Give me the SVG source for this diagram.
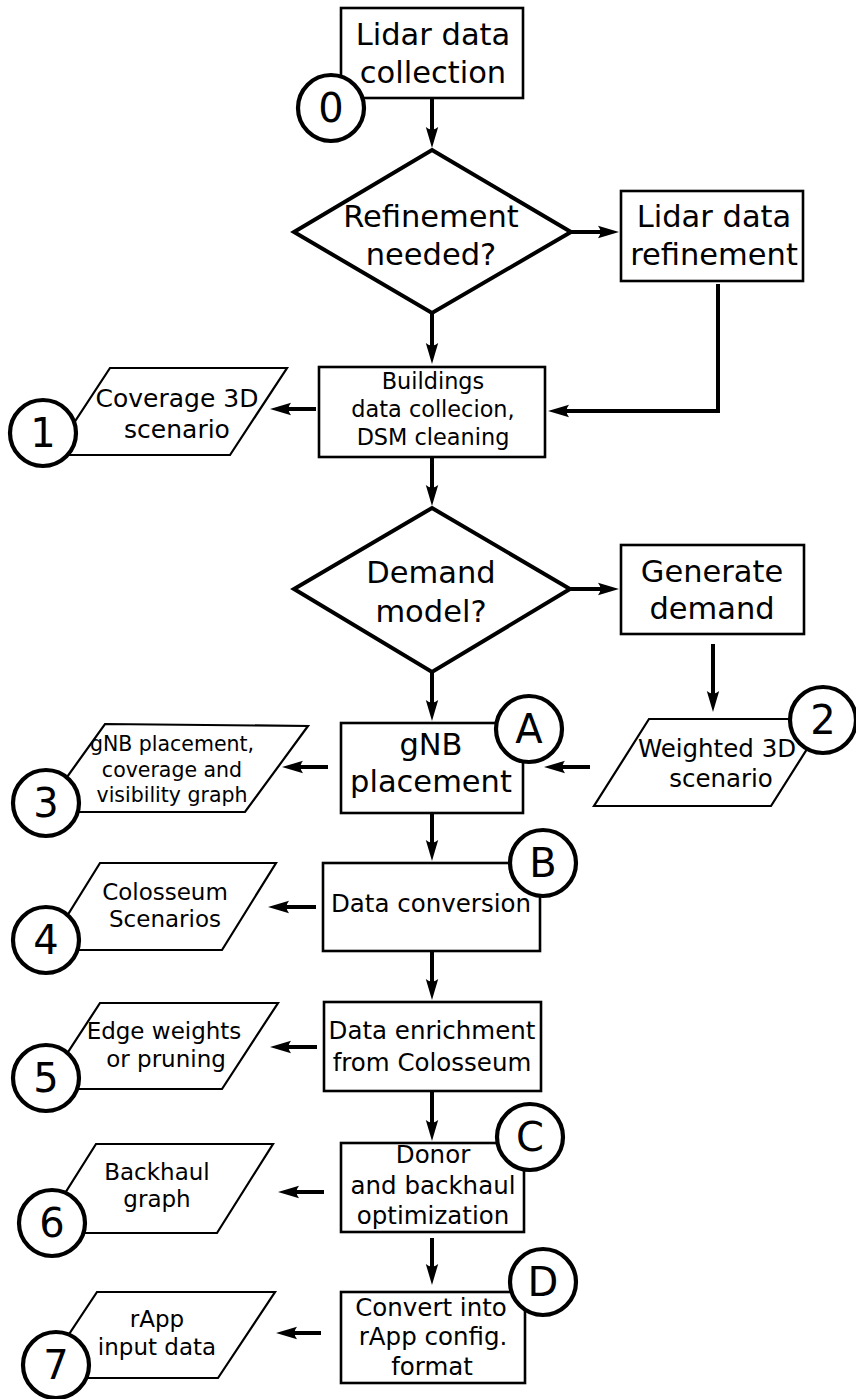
<svg xmlns="http://www.w3.org/2000/svg" width="856" height="1399" viewBox="0 0 856 1399">
<defs>
<marker id="ah" markerUnits="userSpaceOnUse" orient="auto" overflow="visible" refX="0" refY="0" markerWidth="24" markerHeight="24">
<path d="M14,0 L-7,-6.2 Q-2,0 -7,6.2 Z" fill="#000"/>
</marker>
<style>
text{font-family:"DejaVu Sans","Liberation Sans",sans-serif;fill:#000;text-anchor:middle}
.box{fill:#fff;stroke:#000;stroke-width:2.6}
.dia{fill:#fff;stroke:#000;stroke-width:4}
.par{fill:#fff;stroke:#000;stroke-width:2.2;stroke-linejoin:miter}
.badge circle{fill:#fff;stroke:#000;stroke-width:4.2}
.badge text{font-size:40px}
.big{font-size:30.5px}
.l25{font-size:25px}
.mid{font-size:24.5px}
.m23{font-size:23px}
.sm{font-size:22.4px}
.xs{font-size:20.5px}
.conn path{fill:none;stroke:#000;stroke-width:4;marker-end:url(#ah)}
</style>
</defs>
<rect width="856" height="1399" fill="#fff"/>

<g id="n-lidar-collection"><rect class="box" x="341" y="8" width="182" height="90"/><text class="big" x="433" y="45">Lidar data</text><text class="big" x="433" y="83">collection</text></g>
<g id="n-refinement-needed"><polygon class="dia" points="432,150 571,232 432,313 294,232"/><text class="big" x="431" y="227">Refinement</text><text class="big" x="431" y="265">needed?</text></g>
<g id="n-lidar-refinement"><rect class="box" x="621" y="191" width="182" height="90"/><text class="big" x="714" y="227">Lidar data</text><text class="big" x="714" y="265">refinement</text></g>
<g id="n-buildings"><rect class="box" x="319" y="367" width="226" height="90"/><text class="sm" x="433" y="389">Buildings</text><text class="sm" x="433" y="417">data collecion,</text><text class="sm" x="433" y="445">DSM cleaning</text></g>
<g id="n-coverage-3d"><polygon class="par" points="110,368 287,368 230,455 53,455"/><text class="l25" x="177" y="407">Coverage 3D</text><text class="l25" x="177" y="438">scenario</text></g>
<g id="n-demand-model"><polygon class="dia" points="432,508 570,589 432,672 294,589"/><text class="big" x="431" y="583">Demand</text><text class="big" x="431" y="622">model?</text></g>
<g id="n-generate-demand"><rect class="box" x="621" y="545" width="183" height="89"/><text class="big" x="712" y="582">Generate</text><text class="big" x="712" y="619">demand</text></g>
<g id="n-weighted-3d"><polygon class="par" points="649,719 826,719 771,806 594,806"/><text class="mid" x="717" y="757">Weighted 3D</text><text class="mid" x="721" y="787">scenario</text></g>
<g id="n-gnb-placement"><rect class="box" x="341" y="723" width="182" height="90"/><text class="big" x="431" y="755">gNB</text><text class="big" x="431" y="792">placement</text></g>
<g id="n-gnb-output"><polygon class="par" points="105,724 308,726 245,812 42,812"/><text class="xs" x="172" y="751">gNB placement,</text><text class="xs" x="172" y="777">coverage and</text><text class="xs" x="172" y="802">visibility graph</text></g>
<g id="n-data-conversion"><rect class="box" x="323" y="863" width="217" height="88"/><text class="mid" x="431" y="912">Data conversion</text></g>
<g id="n-colosseum-scenarios"><polygon class="par" points="100,863 276,863 222,950 46,950"/><text class="m23" x="165" y="900">Colosseum</text><text class="m23" x="165" y="927">Scenarios</text></g>
<g id="n-data-enrichment"><rect class="box" x="324" y="1002" width="217" height="89"/><text class="mid" x="432" y="1039">Data enrichment</text><text class="mid" x="432" y="1071">from Colosseum</text></g>
<g id="n-edge-weights"><polygon class="par" points="100,1003 278,1003 222,1089 44,1089"/><text class="m23" x="164" y="1039">Edge weights</text><text class="m23" x="166" y="1067">or pruning</text></g>
<g id="n-donor"><rect class="box" x="341" y="1143" width="183" height="89"/><text class="mid" x="433" y="1163">Donor</text><text class="mid" x="433" y="1194">and backhaul</text><text class="mid" x="433" y="1224">optimization</text></g>
<g id="n-backhaul-graph"><polygon class="par" points="96,1144 273,1144 217,1233 40,1233"/><text class="m23" x="157" y="1180">Backhaul</text><text class="m23" x="157" y="1207">graph</text></g>
<g id="n-convert"><rect class="box" x="341" y="1292" width="184" height="91"/><text class="mid" x="431" y="1316">Convert into</text><text class="mid" x="433" y="1345">rApp config.</text><text class="mid" x="432" y="1375">format</text></g>
<g id="n-rapp-input"><polygon class="par" points="97,1292 275,1292 218,1378 40,1378"/><text class="m23" x="157" y="1327">rApp</text><text class="m23" x="157" y="1355">input data</text></g>

<g id="connectors" class="conn">
<path d="M432,98 V134"/>
<path d="M432,313 V350"/>
<path d="M571,232 H605"/>
<path d="M718,284 V411 H562"/>
<path d="M316,409 H284"/>
<path d="M432,457 V492"/>
<path d="M570,589 H605"/>
<path d="M713,644 V698"/>
<path d="M432,672 V707"/>
<path d="M590,767 H558"/>
<path d="M328,767 H296"/>
<path d="M432,814 V847"/>
<path d="M316,907 H282"/>
<path d="M432,951 V986"/>
<path d="M317,1047 H284"/>
<path d="M432,1091 V1127"/>
<path d="M324,1192 H292"/>
<path d="M432,1238 V1271"/>
<path d="M321,1333 H290"/>
</g>

<g id="badge-0" class="badge"><circle cx="331" cy="108" r="33"/><text x="331" y="122">0</text></g>
<g id="badge-1" class="badge"><circle cx="43" cy="433" r="33"/><text x="43" y="447">1</text></g>
<g id="badge-2" class="badge"><circle cx="823" cy="720" r="33"/><text x="823" y="734">2</text></g>
<g id="badge-A" class="badge"><circle cx="529" cy="729" r="33"/><text x="529" y="743">A</text></g>
<g id="badge-3" class="badge"><circle cx="46" cy="803" r="33"/><text x="46" y="817">3</text></g>
<g id="badge-B" class="badge"><circle cx="543" cy="863" r="33"/><text x="543" y="877">B</text></g>
<g id="badge-4" class="badge"><circle cx="46" cy="940" r="33"/><text x="46" y="954">4</text></g>
<g id="badge-5" class="badge"><circle cx="46" cy="1078" r="33"/><text x="46" y="1092">5</text></g>
<g id="badge-C" class="badge"><circle cx="530" cy="1137" r="33"/><text x="530" y="1151">C</text></g>
<g id="badge-6" class="badge"><circle cx="52" cy="1223" r="33"/><text x="52" y="1237">6</text></g>
<g id="badge-D" class="badge"><circle cx="543" cy="1282" r="33"/><text x="543" y="1296">D</text></g>
<g id="badge-7" class="badge"><circle cx="56" cy="1365" r="33"/><text x="56" y="1379">7</text></g>
</svg>
